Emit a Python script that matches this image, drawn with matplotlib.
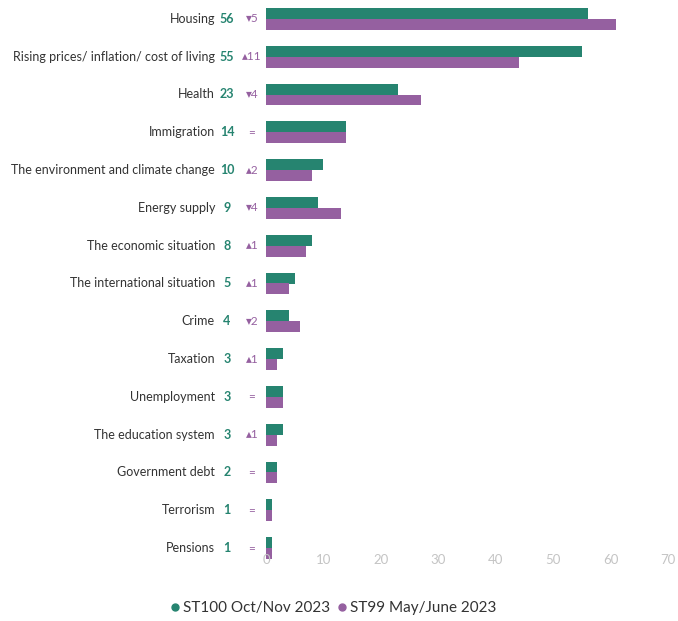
import matplotlib
matplotlib.use("Agg")
import matplotlib.pyplot as plt
from matplotlib.lines import Line2D
import numpy as np

plt.rcParams["font.family"] = ["Lato", "DejaVu Sans"]

categories = [
    "Housing",
    "Rising prices/ inflation/ cost of living",
    "Health",
    "Immigration",
    "The environment and climate change",
    "Energy supply",
    "The economic situation",
    "The international situation",
    "Crime",
    "Taxation",
    "Unemployment",
    "The education system",
    "Government debt",
    "Terrorism",
    "Pensions",
]
st100 = [56, 55, 23, 14, 10, 9, 8, 5, 4, 3, 3, 3, 2, 1, 1]
st99 = [61, 44, 27, 14, 8, 13, 7, 4, 6, 2, 3, 2, 2, 1, 1]
series_labels = ["ST100 Oct/Nov 2023", "ST99 May/June 2023"]
x_ticks = [0, 10, 20, 30, 40, 50, 60, 70]

GREEN = "#268470"
PURPLE = "#9560a0"
TEXT = "#333333"

fig = plt.figure(figsize=(6.78, 6.21), dpi=100)
ax = fig.add_axes([266 / 678, 1 - 567 / 621, 402 / 678, 567 / 621])

y = np.arange(len(categories))
h = 0.29
ax.barh(y - h / 2, st100, height=h, color=GREEN, edgecolor="none")
ax.barh(y + h / 2, st99, height=h, color=PURPLE, edgecolor="none")

ax.set_xlim(0, 70)
ax.set_ylim(len(categories) - 0.5, -0.5)
ax.set_xticks(x_ticks)
ax.set_xticklabels([str(t) for t in x_ticks])
ax.set_yticks([])
ax.tick_params(axis="x", length=0, pad=-9.5, labelsize=9.5, labelcolor="#c4c4c4")
for s in ax.spines.values():
    s.set_visible(False)

for i, (cat, cur, prev) in enumerate(zip(categories, st100, st99)):
    ax.annotate(cat, xy=(0, i), xycoords=("axes fraction", "data"),
                xytext=(-51 * 0.72, 0), textcoords="offset points",
                ha="right", va="center", fontsize=9, color=TEXT)
    ax.annotate(str(cur), xy=(0, i), xycoords=("axes fraction", "data"),
                xytext=(-39 * 0.72, 0), textcoords="offset points",
                ha="center", va="center", fontsize=9, color=GREEN,
                fontweight="bold")
    diff = cur - prev
    if diff > 0:
        change = "\u25b4" + str(diff)
    elif diff < 0:
        change = "\u25be" + str(-diff)
    else:
        change = "="
    ax.annotate(change, xy=(0, i), xycoords=("axes fraction", "data"),
                xytext=(-14 * 0.72, 0), textcoords="offset points",
                ha="center", va="center", fontsize=8.5, color=PURPLE)

handles = [
    Line2D([], [], marker="o", linestyle="none", markersize=5, color=GREEN),
    Line2D([], [], marker="o", linestyle="none", markersize=5, color=PURPLE),
]
fig.legend(handles, series_labels, loc="center", bbox_to_anchor=(332 / 678, 1 - 608 / 621),
           ncol=2, frameon=False, fontsize=11, handletextpad=0.0,
           columnspacing=0.3, handlelength=1.0, labelcolor=TEXT)

fig.savefig("out.png", dpi=100)
